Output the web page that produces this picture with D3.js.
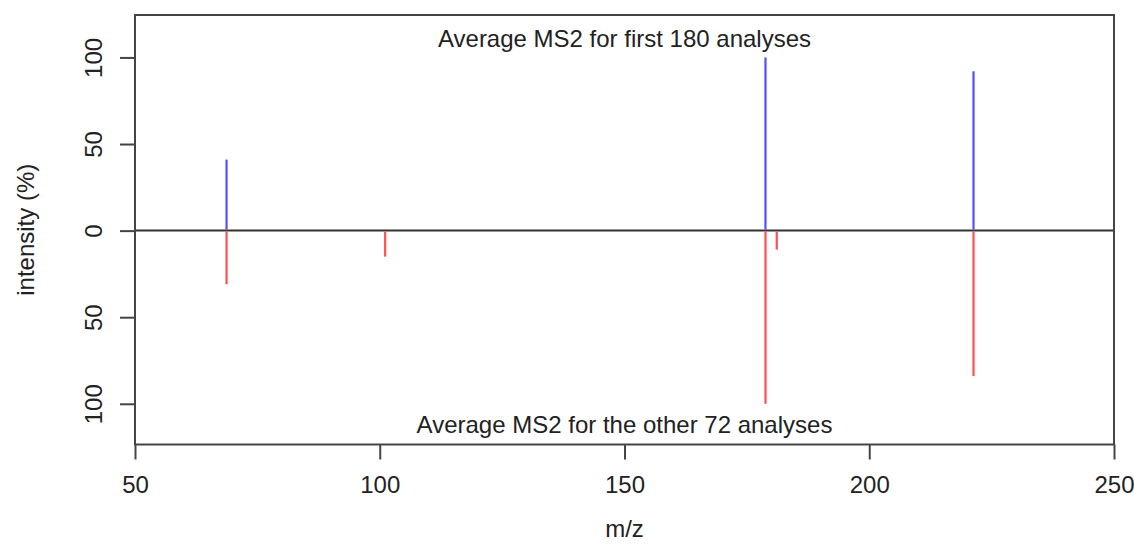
<!DOCTYPE html>
<html>
<head>
<meta charset="utf-8">
<script src="https://cdn.jsdelivr.net/npm/d3@7"></script>
<style>
  html, body { margin: 0; padding: 0; background: #fff; }
  svg { display: block; }
  text { font-family: "Liberation Sans", Arial, sans-serif; fill: #222; }
</style>
</head>
<body>
<svg id="chart" width="1134" height="548"></svg>
<script>
// Peaks of the first group (drawn upward)
const topMz = [68.7, 178.8, 221.3];
const topIntensity = [41, 100, 92];
// Peaks of the second group (drawn downward)
const bottomMz = [68.7, 101.1, 178.8, 181.1, 221.3];
const bottomIntensity = [31, 15, 100, 11, 84];

const xTicks = [50, 100, 150, 200, 250];
const yTicks = [-100, -50, 0, 50, 100];

const topLabel = "Average MS2 for first 180 analyses";
const bottomLabel = "Average MS2 for the other 72 analyses";
const xTitle = "m/z";
const yTitle = "intensity (%)";

const svg = d3.select("#chart");
const m = { left: 135, right: 1114, top: 15, bottom: 444.5 };

const x = d3.scaleLinear().domain([50, 250]).range([m.left, m.right]);
const y = d3.scaleLinear().domain([-123.5, 124.5]).range([m.bottom, m.top]);

// Axes (R-style: labels below / left, y labels parallel to axis)
const xAxis = svg.append("g")
  .attr("transform", `translate(0,${m.bottom})`)
  .call(d3.axisBottom(x).tickValues(xTicks).tickSize(15).tickPadding(16).tickFormat(d3.format("d")));
xAxis.select(".domain").remove();
xAxis.selectAll("line").attr("stroke", "#444").attr("stroke-width", 2);
xAxis.selectAll("text").style("font-size", "24px").attr("fill", "#222");

const yAxis = svg.append("g")
  .attr("transform", `translate(${m.left},0)`)
  .call(d3.axisLeft(y).tickValues(yTicks).tickSize(15).tickFormat(d => Math.abs(d)));
yAxis.select(".domain").remove();
yAxis.selectAll("line").attr("stroke", "#444").attr("stroke-width", 2);
yAxis.selectAll("text")
  .attr("x", 0).attr("y", 0).attr("dy", 0)
  .attr("transform", "translate(-33,0) rotate(-90)")
  .attr("text-anchor", "middle")
  .style("font-size", "24px");

// Zero line
svg.append("line")
  .attr("x1", m.left).attr("x2", m.right)
  .attr("y1", y(0)).attr("y2", y(0))
  .attr("stroke", "#333").attr("stroke-width", 2);

// Spectrum sticks
const topData = topMz.map((d, i) => ({ mz: d, v: topIntensity[i] }));
const botData = bottomMz.map((d, i) => ({ mz: d, v: -bottomIntensity[i] }));

svg.append("g").selectAll("line").data(botData).join("line")
  .attr("x1", d => x(d.mz)).attr("x2", d => x(d.mz))
  .attr("y1", y(0) + 1).attr("y2", d => y(d.v))
  .attr("stroke", "#ff5050").attr("stroke-width", 2.2);

svg.append("g").selectAll("line").data(topData).join("line")
  .attr("x1", d => x(d.mz)).attr("x2", d => x(d.mz))
  .attr("y1", y(0) - 1).attr("y2", d => y(d.v))
  .attr("stroke", "#5050ff").attr("stroke-width", 2.2);

// Plot frame
svg.append("rect")
  .attr("x", m.left).attr("y", m.top)
  .attr("width", m.right - m.left).attr("height", m.bottom - m.top)
  .attr("fill", "none").attr("stroke", "#444").attr("stroke-width", 2);

// Group labels
const cx = (m.left + m.right) / 2;
svg.append("text").attr("x", cx).attr("y", 47)
  .attr("text-anchor", "middle").style("font-size", "24px").text(topLabel);
svg.append("text").attr("x", cx).attr("y", 433)
  .attr("text-anchor", "middle").style("font-size", "24px").text(bottomLabel);

// Axis titles
svg.append("text").attr("x", cx).attr("y", 537)
  .attr("text-anchor", "middle").style("font-size", "24px").text(xTitle);
svg.append("text")
  .attr("transform", `translate(34,${(m.top + m.bottom) / 2}) rotate(-90)`)
  .attr("text-anchor", "middle").style("font-size", "24px").text(yTitle);
</script>
</body>
</html>
